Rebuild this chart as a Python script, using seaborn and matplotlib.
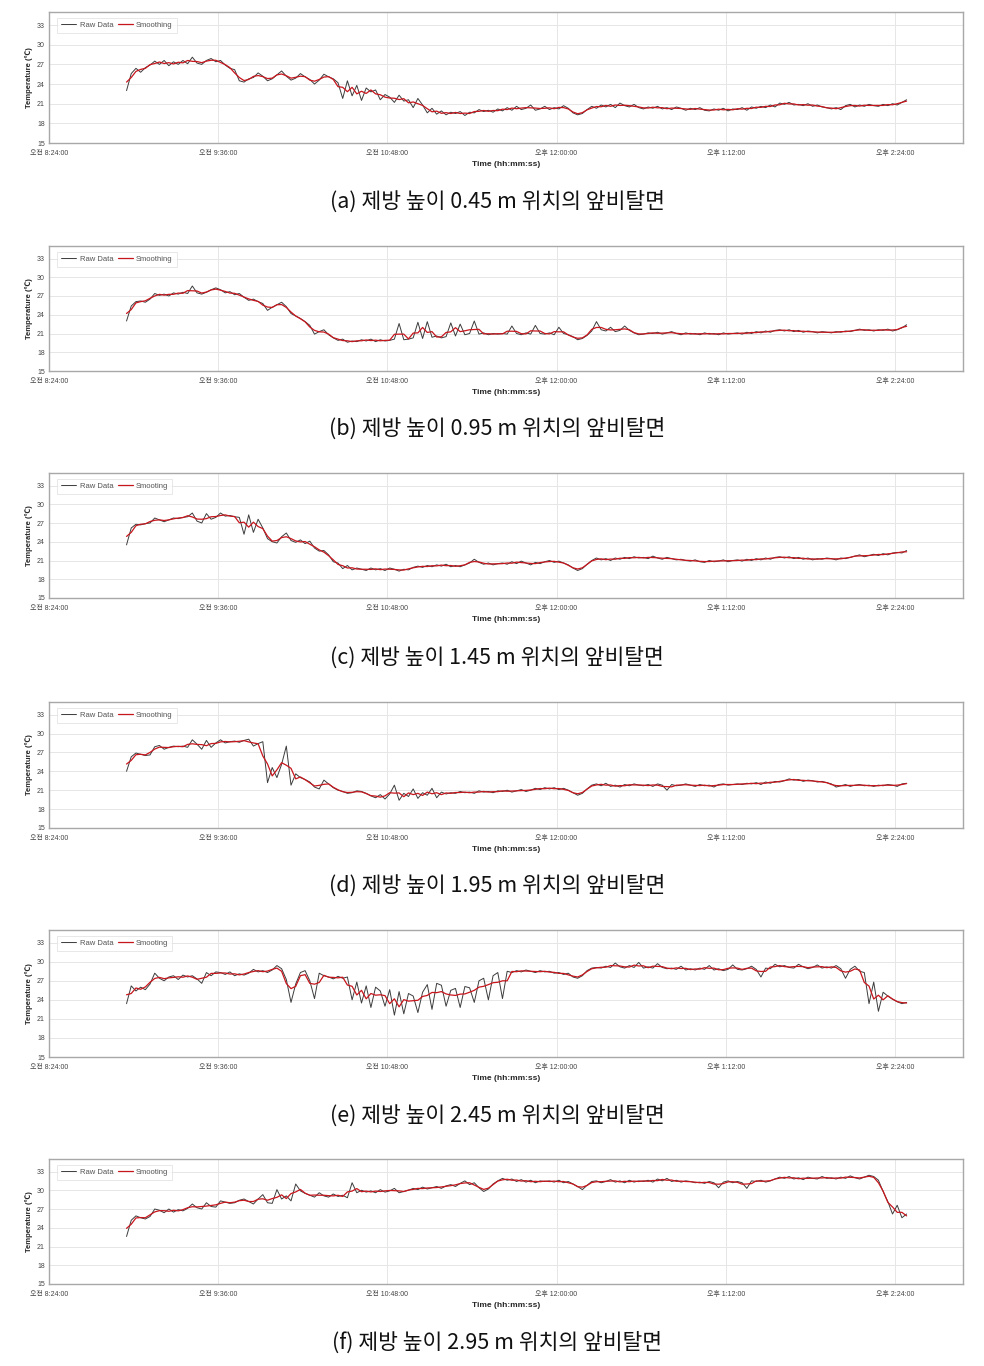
import numpy as np
import pandas as pd
import matplotlib
matplotlib.use("Agg")
import matplotlib.pyplot as plt
from matplotlib.ticker import FuncFormatter, FixedLocator
import seaborn as sns

# ---------------- data ----------------
# sampling: every 2 minutes from 08:57 to 14:29 (minutes since midnight)
START_MIN = 8 * 60 + 57
STEP_MIN = 2

captions = [
    "(a) 제방 높이 0.45 m 위치의 앞비탈면",
    "(b) 제방 높이 0.95 m 위치의 앞비탈면",
    "(c) 제방 높이 1.45 m 위치의 앞비탈면",
    "(d) 제방 높이 1.95 m 위치의 앞비탈면",
    "(e) 제방 높이 2.45 m 위치의 앞비탈면",
    "(f) 제방 높이 2.95 m 위치의 앞비탈면",
]
smooth_labels = ["Smoothing", "Smoothing", "Smooting", "Smoothing", "Smooting", "Smooting"]

raw_a = [
    23.0, 25.6, 26.4, 25.8, 26.5, 26.9, 27.5, 27.0, 27.6, 26.8,
    27.4, 27.0, 27.6, 27.1, 28.1, 27.2, 27.0, 27.6, 27.9, 27.4,
    27.6, 26.9, 26.4, 26.2, 24.5, 24.3, 24.8, 25.0, 25.7, 25.2,
    24.5, 24.8, 25.4, 26.0, 25.2, 24.6, 24.9, 25.6, 25.1, 24.7,
    24.0, 24.6, 25.5, 25.1, 24.8, 24.2, 21.8, 24.5, 22.2, 23.8,
    21.5, 23.4, 22.8, 23.1, 21.6, 22.4, 22.0, 21.2, 22.3, 21.4,
    21.6, 20.4, 21.8, 20.8, 19.6, 20.3, 19.4, 19.9, 19.3, 19.7,
    19.5, 19.8, 19.2, 19.7, 19.6, 20.1, 19.8, 20.0, 19.7, 20.2,
    19.9, 20.4, 20.0, 20.6, 20.1, 20.3, 20.8, 20.0, 20.2, 20.6,
    20.1, 20.4, 20.2, 20.7, 20.3, 19.6, 19.3, 19.5, 20.1, 20.6,
    20.3, 20.8, 20.5, 20.9, 20.4, 21.1, 20.7, 20.5, 20.9, 20.4,
    20.2, 20.5, 20.3, 20.6, 20.2, 20.4, 20.1, 20.5, 20.3, 20.0,
    20.3, 20.1, 20.4, 20.0, 19.9, 20.2, 20.0, 20.3, 19.9, 20.2,
    20.1, 20.4, 20.0, 20.5, 20.3, 20.6, 20.4, 20.8, 20.5, 21.1,
    20.9, 21.2, 20.8, 20.9, 20.7, 21.0, 20.6, 20.8, 20.5, 20.4,
    20.2, 20.4, 20.1, 20.7, 20.9, 20.5, 20.8, 20.6, 20.9, 20.7,
    20.6, 20.9, 20.7, 21.0, 20.8, 21.2, 21.6,
]
raw_b = [
    23.0, 25.4, 26.1, 26.2, 26.0, 26.5, 27.4, 27.1, 27.3, 27.0,
    27.5, 27.3, 27.6, 27.4, 28.6, 27.5, 27.3, 27.6, 28.0, 28.3,
    28.0, 27.5, 27.7, 27.2, 27.4, 26.8, 26.3, 26.5, 26.1, 25.8,
    24.7, 25.2, 25.6, 26.0, 25.3, 24.2, 23.8, 23.4, 22.9, 22.3,
    20.9, 21.3, 21.6, 20.8, 20.3, 19.9, 20.1, 19.6, 19.8, 19.7,
    20.0, 19.8, 20.1, 19.7, 20.0, 19.8, 19.9, 20.1, 22.6, 20.0,
    20.1, 20.3, 22.8, 20.2, 22.9, 20.4, 20.6, 20.3, 20.5, 22.7,
    20.6, 22.5, 20.8, 21.0, 23.0, 20.9, 21.1, 20.8, 21.0, 20.9,
    21.0, 20.9, 22.2, 21.0, 20.8, 21.1, 20.9, 22.3, 21.0, 20.9,
    21.1, 20.8, 22.0, 21.0, 20.8, 20.5, 20.0, 20.2, 20.7, 21.4,
    22.9, 21.6, 21.4, 22.0, 21.3, 21.5, 22.2, 21.5, 21.1, 20.8,
    20.9, 21.1, 21.0, 21.2, 20.9, 21.1, 21.3, 21.0, 20.8, 21.1,
    20.9, 21.0, 20.8, 21.1, 20.9, 21.0, 20.8, 21.1, 20.9, 21.0,
    21.1, 20.9, 21.2, 21.0, 21.3, 21.1, 21.4, 21.2, 21.5, 21.6,
    21.4, 21.6, 21.3, 21.5, 21.2, 21.4, 21.3, 21.1, 21.3, 21.2,
    21.1, 21.3, 21.2, 21.4, 21.3, 21.5, 21.7, 21.5, 21.6, 21.4,
    21.6, 21.5, 21.7, 21.4, 21.6, 21.9, 22.4,
]
raw_c = [
    23.5, 26.2, 26.8, 26.7, 26.9, 27.0, 27.8, 27.5, 27.2, 27.5,
    27.8, 27.7, 27.9, 28.0, 28.6, 27.3, 27.0, 28.5, 27.6, 27.9,
    28.6, 28.1, 28.2, 28.0, 27.9, 25.2, 28.3, 25.5, 27.6, 26.2,
    24.5, 24.0, 23.8, 24.8, 25.4, 24.2, 23.9, 24.3, 23.7, 24.1,
    23.0, 22.5, 22.6, 21.9, 20.8, 20.6, 19.7, 20.2, 19.5, 19.8,
    19.6, 19.4, 19.8, 19.5, 19.7, 19.4, 19.8, 19.6, 19.3, 19.6,
    19.5, 19.9, 20.1, 19.9, 20.2, 20.0, 20.3, 20.1, 20.4, 20.0,
    20.2, 20.0, 20.3, 20.6, 21.2, 20.7, 20.4, 20.6, 20.3, 20.5,
    20.6, 20.4, 20.8, 20.5, 20.9, 20.6, 20.3, 20.7, 20.5, 20.8,
    21.0, 20.7, 20.9, 20.6, 20.3, 19.8, 19.4, 19.7, 20.4, 21.0,
    21.4, 21.1, 21.3, 21.0, 21.4, 21.2, 21.5, 21.3, 21.6, 21.4,
    21.5, 21.3, 21.7, 21.4, 21.2, 21.5, 21.3, 21.1, 21.2, 21.0,
    20.9, 21.1, 20.8, 20.7, 21.0, 20.8, 20.9, 21.1, 20.8, 21.0,
    21.1, 20.9, 21.2, 21.0, 21.3, 21.1, 21.4, 21.2, 21.5, 21.6,
    21.4, 21.6, 21.3, 21.5, 21.2, 21.4, 21.1, 21.3, 21.2, 21.4,
    21.3, 21.1, 21.4, 21.3, 21.5, 21.7, 21.9, 21.6, 21.8, 22.0,
    21.8, 22.1, 21.9, 22.2, 22.3, 22.2, 22.6,
]
raw_d = [
    24.0, 26.3, 26.9, 26.7, 26.5, 26.6, 27.9, 28.1, 27.5, 27.8,
    28.0, 27.9, 28.0, 27.8, 29.0, 28.3, 27.5, 28.9, 27.8, 28.5,
    29.0, 28.5, 28.7, 28.8, 28.6, 28.9, 29.1, 28.0, 28.4, 28.7,
    22.2, 24.6, 23.0, 25.1, 28.0, 21.8, 23.6, 23.0, 22.7, 22.3,
    21.5, 21.2, 22.6, 22.0, 21.4, 21.0, 20.8, 20.5, 20.6, 20.9,
    20.8, 20.5, 20.1, 19.8, 20.3, 19.6, 20.4, 21.8, 19.4, 20.5,
    20.0, 21.2, 19.7, 20.6, 20.2, 21.3, 19.8, 20.7, 20.4, 20.6,
    20.5, 20.8, 20.6, 20.7, 20.5, 20.9, 20.7, 20.8, 20.6, 20.9,
    20.8, 21.0, 20.7, 20.9, 21.1, 20.8, 21.0, 21.3, 21.1, 21.4,
    21.2, 21.4, 21.1, 21.3, 21.0, 20.6, 20.2, 20.5, 21.2, 21.8,
    22.0, 21.7, 22.1, 21.6, 21.8, 21.5, 21.9, 21.7, 22.0, 21.8,
    21.7, 21.9, 21.6, 22.0, 21.8, 21.0, 21.9, 21.7, 21.8, 22.0,
    21.8, 21.6, 21.9, 21.7, 21.8, 21.5, 21.9, 22.0, 21.8, 21.9,
    22.0, 21.9, 22.1, 22.0, 22.2, 21.9, 22.3, 22.1, 22.4, 22.3,
    22.5, 22.8, 22.6, 22.7, 22.4, 22.6, 22.5, 22.3, 22.4, 22.2,
    22.0, 21.5, 21.7, 21.9, 21.6, 21.8, 21.9, 21.7, 21.8, 21.6,
    21.8, 21.7, 21.9, 21.8, 21.6, 22.0, 22.1,
]
raw_e = [
    23.4, 26.2, 25.4, 26.0, 25.6, 26.5, 28.2, 27.4, 27.0, 27.6,
    27.8, 27.2, 27.9, 27.6, 27.8, 27.3, 26.6, 28.3, 27.8, 28.4,
    28.3, 28.0, 28.4, 27.8, 28.1, 27.9, 28.2, 28.8, 28.4, 28.6,
    28.3, 28.7, 29.4, 28.9, 27.2, 23.6, 26.5, 28.3, 28.6, 27.0,
    24.2, 28.2, 27.8, 27.6, 27.3, 27.7, 27.4, 27.6, 24.0, 26.8,
    23.5, 26.2, 22.8, 26.0, 25.4, 23.0, 25.6, 21.6, 25.3, 21.8,
    25.0, 24.6, 22.0, 25.2, 26.4, 22.5, 26.6, 26.3, 23.0, 25.5,
    25.8, 22.8, 26.1, 25.9, 23.6, 27.0, 27.4, 24.0, 27.8, 28.3,
    24.2, 28.5, 28.3, 28.6, 28.4, 28.7, 28.5, 28.3, 28.6, 28.4,
    28.5, 28.2, 28.3, 28.0, 28.2, 27.6, 27.4, 27.8, 28.6, 29.0,
    29.1, 29.0, 29.3, 29.1, 29.8, 29.2, 29.0, 29.4, 29.1, 29.9,
    29.0, 29.2, 29.0, 29.7, 29.1, 28.9, 29.0, 28.8, 29.3, 28.7,
    28.9, 28.7, 29.0, 28.8, 29.4, 28.7, 28.9, 28.6, 28.8, 29.5,
    28.8, 28.7, 28.9, 29.3, 28.8, 27.6, 29.0, 28.9, 29.6, 29.2,
    29.4, 29.1, 29.0, 29.6, 29.2, 28.9, 29.1, 29.5, 29.0, 29.2,
    29.0, 29.4, 28.9, 27.4, 28.8, 29.3, 28.5, 28.3, 23.4, 26.8,
    22.2, 25.2, 24.6, 24.1, 23.7, 23.4, 23.6,
]
raw_f = [
    22.6, 25.2, 25.9, 25.6, 25.4, 25.8, 27.0, 26.8, 26.4, 27.0,
    26.5, 26.9, 26.7, 27.1, 27.8, 27.2, 27.0, 28.0, 27.4, 27.3,
    28.3, 28.1, 27.9, 28.0, 28.4, 28.6, 28.2, 27.8, 28.6, 29.3,
    28.0, 27.9, 30.1, 28.6, 29.1, 28.3, 31.0, 29.9, 29.5, 29.2,
    28.9, 29.6, 29.1, 28.9, 29.4, 29.0, 29.2, 28.8, 31.2, 29.6,
    30.0, 29.7, 29.9, 29.6, 30.1, 29.7, 29.9, 30.3, 29.6, 29.8,
    30.0, 30.3, 30.1, 30.5, 30.2, 30.4, 30.6, 30.3, 30.7, 30.9,
    30.6, 31.1, 31.5, 30.9, 31.2, 30.4, 29.8, 30.2, 31.0, 31.5,
    31.9, 31.6, 31.8, 31.4, 31.7, 31.3, 31.6, 31.2, 31.5, 31.4,
    31.5, 31.3, 31.6, 31.2, 31.4, 31.0, 30.6, 30.1, 30.8, 31.4,
    31.5, 31.2, 31.4, 31.7, 31.3, 31.5, 31.2, 31.6, 31.3, 31.5,
    31.4, 31.6, 31.3, 31.8, 31.5, 31.9, 31.4, 31.6, 31.3, 31.5,
    31.4, 31.2, 31.3, 31.1, 31.4, 31.2, 30.4, 31.3, 31.5, 31.2,
    31.4, 31.2, 30.3, 31.5, 31.4, 31.6, 31.3, 31.5, 31.8, 32.1,
    31.9, 32.2, 31.8, 32.0, 31.7, 32.1, 31.9, 31.8, 32.2, 31.9,
    32.0, 31.8, 32.1, 31.9, 32.3, 32.0, 31.8, 32.1, 32.4, 32.2,
    31.6, 29.8, 28.2, 26.2, 27.6, 25.6, 26.2,
]
raw_series = [raw_a, raw_b, raw_c, raw_d, raw_e, raw_f]

x_ticks = [8 * 60 + 24, 9 * 60 + 36, 10 * 60 + 48, 12 * 60, 13 * 60 + 12, 14 * 60 + 24]
y_ticks = [15, 18, 21, 24, 27, 30, 33]

# ---------------- style ----------------
sns.set_theme(style="whitegrid")
plt.rcParams["font.family"] = ["Liberation Sans", "Noto Sans CJK KR", "DejaVu Sans"]

W, H = 984, 1366
fig = plt.figure(figsize=(W / 100, H / 100), dpi=100)
fig.patch.set_facecolor("white")

ax_px = [(12, 143), (246, 371), (473, 598), (702, 828), (930, 1057), (1159, 1284)]
cap_y = [202, 429, 658, 886, 1116, 1343]
left_px, right_px = 49, 963


def fmt_time(m, pos=None):
    m = int(round(m))
    h, mm = divmod(m, 60)
    ampm = "오전" if h < 12 else "오후"
    h12 = h if h <= 12 else h - 12
    return f"{ampm} {h12}:{mm:02d}:00"


for i, raw in enumerate(raw_series):
    top, bot = ax_px[i]
    ax = fig.add_axes([left_px / W, 1 - bot / H, (right_px - left_px) / W, (bot - top) / H])
    t = START_MIN + STEP_MIN * np.arange(len(raw))
    df = pd.DataFrame({"time": t, "raw": raw})
    df["smooth"] = df["raw"].rolling(3, center=True, min_periods=1).mean()

    sns.lineplot(data=df, x="time", y="raw", ax=ax, color="#3c3c3c", lw=0.7,
                 label="Raw Data", estimator=None)
    sns.lineplot(data=df, x="time", y="smooth", ax=ax, color="#c8161d", lw=0.9,
                 label=smooth_labels[i], estimator=None)

    ax.set_xlim(8 * 60 + 24, 14 * 60 + 53)
    ax.set_ylim(15, 35)
    ax.xaxis.set_major_locator(FixedLocator(x_ticks))
    ax.xaxis.set_major_formatter(FuncFormatter(fmt_time))
    ax.set_yticks(y_ticks)
    ax.tick_params(axis="y", labelsize=5, colors="#444444", pad=3, length=0)
    ax.tick_params(axis="x", labelsize=5, colors="#444444", pad=5, length=0)
    ax.grid(True, color="#e6e6e6", lw=0.7)
    for sp in ax.spines.values():
        sp.set_color("#a8a8a8")
        sp.set_linewidth(1.0)
    ax.set_xlabel("Time (hh:mm:ss)", fontsize=6, fontweight="bold", labelpad=3)
    ax.set_ylabel("Temperature (℃)", fontsize=5.5, fontweight="bold", labelpad=3,
                  family=["Liberation Sans", "Noto Sans CJK KR"])
    leg = ax.legend(loc="upper left", ncol=2, fontsize=5.5, frameon=True,
                    handlelength=2.0, columnspacing=0.6, handletextpad=0.4,
                    borderpad=0.5, fancybox=False, bbox_to_anchor=(0.005, 0.985))
    leg.get_frame().set_edgecolor("#dddddd")
    leg.get_frame().set_linewidth(0.6)
    for txt in leg.get_texts():
        txt.set_color("#555555")

    fig.text(497 / W, 1 - cap_y[i] / H, captions[i], ha="center", va="center",
             fontsize=15.5, family=["Noto Sans CJK KR"], color="#111111")

fig.savefig("out.png", dpi=100, facecolor="white")
